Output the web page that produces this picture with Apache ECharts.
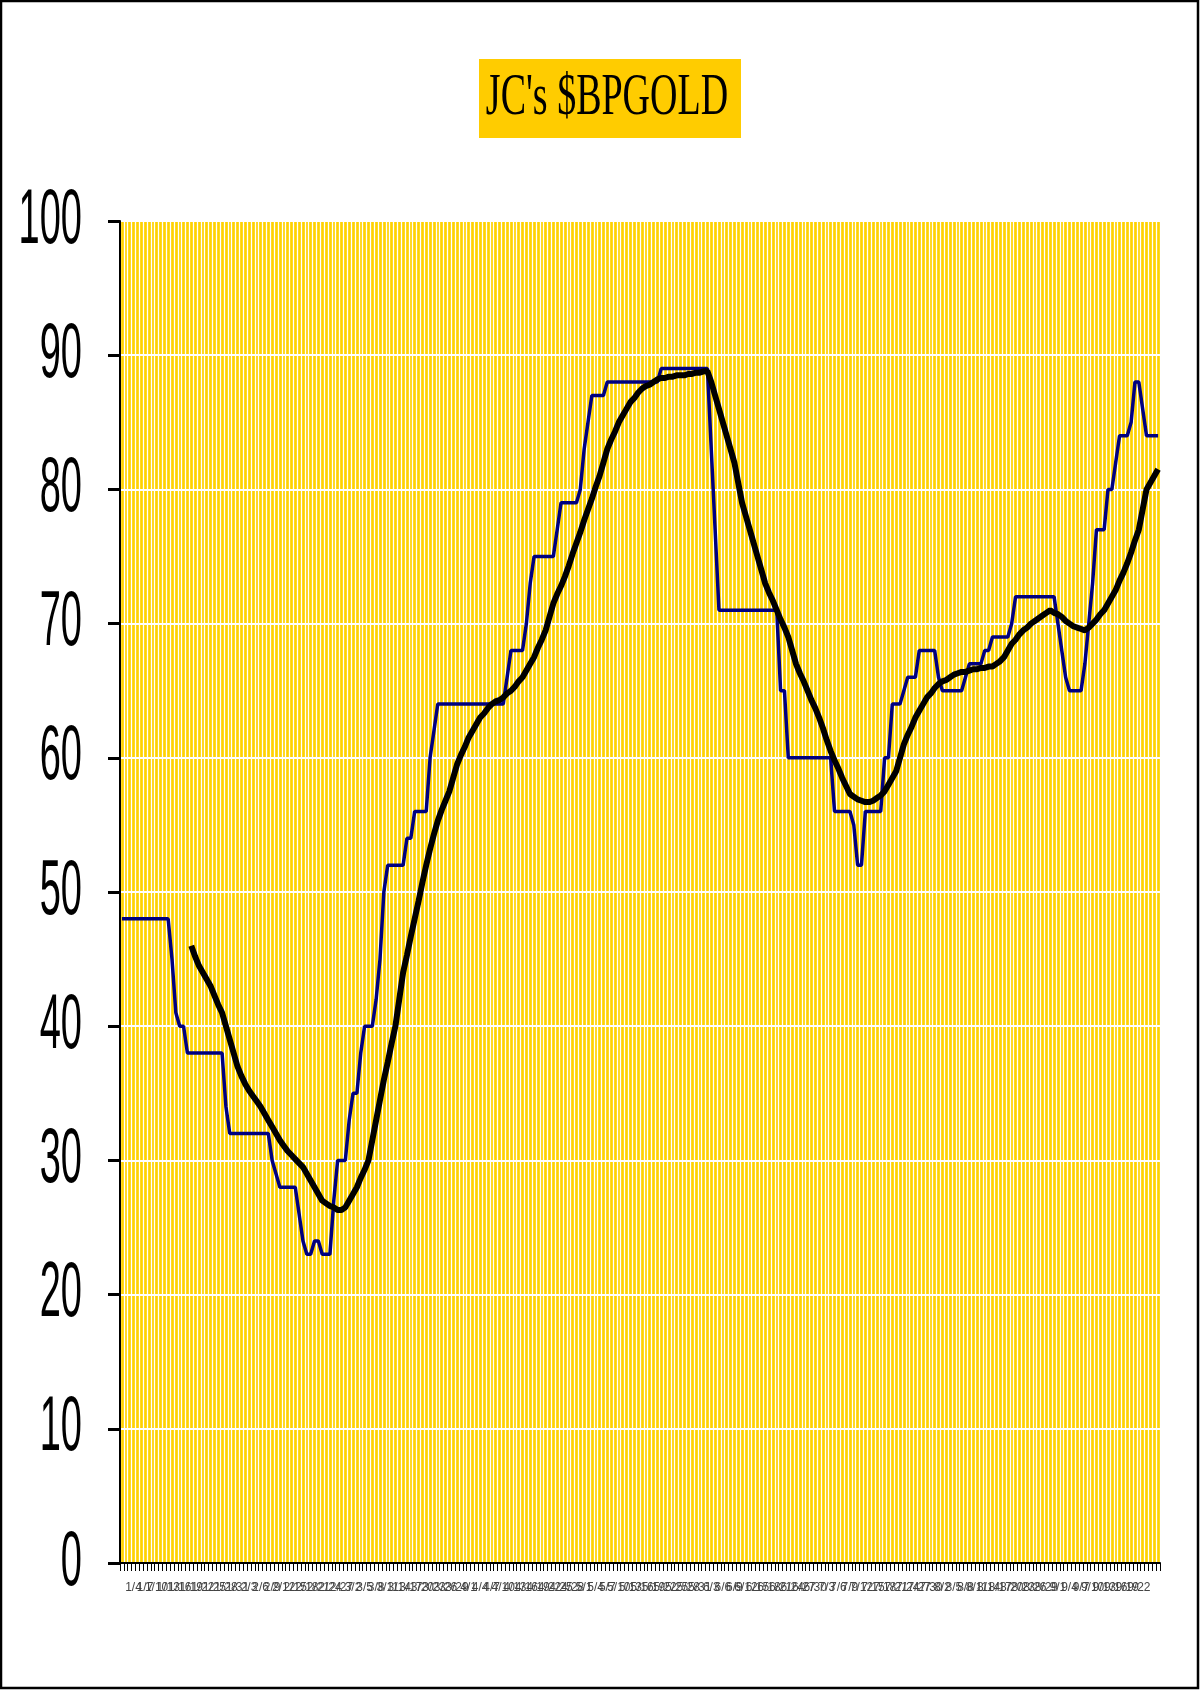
<!DOCTYPE html>
<html><head><meta charset="utf-8">
<script src="https://cdn.jsdelivr.net/npm/echarts@6/dist/echarts.min.js"></script>
<style>html,body{margin:0;padding:0;background:#fff}#c{width:1200px;height:1690px}</style>
</head><body><div id="c"></div>
<script>
const titleText = "JC's $BPGOLD";

// category labels: consecutive dates M/D
const categories = [];
for (let i = 0; i < 270; i++) {
  const d = new Date(2009, 0, 1 + i);
  categories.push((d.getMonth() + 1) + '/' + d.getDate());
}

const yMin = 0, yMax = 100, yStep = 10;
const yTickValues = [0, 10, 20, 30, 40, 50, 60, 70, 80, 90, 100];
const yTickLabels = ['0', '10', '20', '30', '40', '50', '60', '70', '80', '90', '100'];

// $BPGOLD bullish percent (blue step line)
const bpValues = [
  48,48,48,48,48,48,48,48,48,48,48,48,48,45,41,40,40,
  38,38,38,38,38,38,38,38,38,38,
  34,32,32,32,32,32,32,32,32,32,32,32,
  30,29,28,28,28,28,28,26,24,23,23,24,24,23,23,23,
  27,30,30,30,33,35,35,38,40,40,40,42,45,50,
  52,52,52,52,52,54,54,56,56,56,56,60,62,
  64,64,64,64,64,64,64,64,64,64,64,64,64,64,64,64,64,64,
  66,68,68,68,68,70,73,75,75,75,75,75,75,77,79,79,79,79,79,80,83,85,87,87,87,87,
  88,88,88,88,88,88,88,88,88,88,88,88,88,88,
  89,89,89,89,89,89,89,89,89,89,89,89,89,83,77,
  71,71,71,71,71,71,71,71,71,71,71,71,71,71,71,71,
  65,65,60,60,60,60,60,60,60,60,60,60,60,60,
  56,56,56,56,56,55,52,52,56,56,56,56,56,60,60,64,64,64,65,66,66,66,
  68,68,68,68,68,66,65,65,65,65,65,65,66,67,67,67,67,68,68,69,69,69,69,69,70,
  72,72,72,72,72,72,72,72,72,72,72,70,68,66,65,65,65,65,
  67,70,73,77,77,77,80,80,82,84,84,84,85,88,88,86,84,84,84,84
];

// moving average (black thick line)
const maValues = [
  null,null,null,null,null,null,null,null,null,null,null,null,null,null,null,null,null,null,
  46,45.2,44.5,44,43.5,43,42.3,41.6,41,40,39,38,37,36.3,35.7,35.2,34.8,34.4,34,33.5,33,32.5,
  32,31.5,31.1,30.7,30.4,30.1,29.8,29.5,29,28.5,28,27.5,27,26.8,26.6,26.5,26.3,26.3,26.5,27,
  27.5,28,28.7,29.3,30,31.5,33,34.5,36,37.3,38.7,40,42,44,45.3,46.7,48,49.3,50.7,52,
  53.2,54.3,55.3,56.1,56.8,57.5,58.5,59.5,60.2,60.8,61.5,62,62.5,63,63.3,63.7,64,64.2,64.3,64.5,
  64.8,65,65.3,65.7,66,66.5,67,67.5,68.2,68.8,69.5,70.5,71.5,72.2,72.8,73.5,74.3,75.2,76,76.8,
  77.7,78.5,79.3,80.2,81,82,83,83.7,84.3,85,85.5,86,86.5,86.8,87.2,87.5,87.7,87.8,88,88.2,
  88.3,88.3,88.4,88.4,88.5,88.5,88.5,88.6,88.6,88.7,88.7,88.8,88.8,88,87,86,85,84,83,82,
  80.5,79,78,77,76,75,74,73,72.3,71.7,71,70.3,69.7,69,68,67,66.3,65.7,65,64.3,
  63.7,63,62.2,61.3,60.5,59.8,59.2,58.5,57.9,57.3,57.1,56.9,56.8,56.7,56.7,56.8,57,57.2,57.5,58,
  58.5,59,60,61,61.7,62.3,63,63.5,64,64.5,64.8,65.2,65.5,65.7,65.8,66,66.2,66.3,66.4,66.4,
  66.5,66.6,66.6,66.7,66.7,66.8,66.8,67,67.2,67.5,68,68.5,68.8,69.2,69.5,69.7,70,70.2,70.4,70.6,
  70.8,71,70.8,70.7,70.5,70.2,70,69.8,69.7,69.6,69.5,69.7,70,70.3,70.7,71,71.5,72,72.5,73.2,
  73.8,74.5,75.3,76.2,77,78.5,80,80.5,81,81.5
];

const chart = echarts.init(document.getElementById('c'), null, {renderer: 'canvas'});
chart.setOption({
  animation: false,
  backgroundColor: '#ffffff',
  grid: {
    left: 120, right: 40, top: 221, bottom: 127,
    show: true, backgroundColor: '#FFD200', borderWidth: 0
  },
  graphic: [
    {id: 'frame', type: 'rect', shape: {x: 1, y: 1, width: 1197, height: 1687}, style: {fill: 'none', stroke: '#000', lineWidth: 2.5}, z: 100},
    {id: 'tbox', type: 'rect', shape: {x: 479, y: 59, width: 262, height: 79}, style: {fill: '#FFCC00'}, z: 10},
    {id: 'ttext', type: 'text', x: 607, y: 99, scaleY: 1.55, z: 11,
     style: {text: titleText, font: '38px "Liberation Serif"', fill: '#000', align: 'center', verticalAlign: 'middle'}}
  ],
  xAxis: {
    type: 'category',
    data: categories,
    boundaryGap: true,
    axisLine: {show: true, lineStyle: {color: '#000', width: 2}},
    axisTick: {show: true, interval: 0, length: 8, lineStyle: {color: '#000', width: 1}},
    axisLabel: {show: true, interval: 2, fontSize: 12, fontFamily: '"Liberation Sans"', color: '#444', margin: 19},
    splitLine: {show: true, interval: 0, lineStyle: {color: '#ffffff', width: 1.3}}
  },
  yAxis: {
    type: 'value',
    min: yMin, max: yMax, interval: yStep,
    axisLine: {show: true, lineStyle: {color: '#000', width: 2}},
    axisTick: {show: true, length: 12, lineStyle: {color: '#000', width: 3}},
    axisLabel: {show: false},
    splitLine: {show: true, lineStyle: {color: '#ffffff', width: 2}}
  },
  series: [
    {type: 'line', data: bpValues, showSymbol: false, symbol: 'none',
     lineStyle: {color: '#000080', width: 3.5}, z: 2},
    {type: 'line', data: maValues, showSymbol: false, symbol: 'none', connectNulls: false,
     lineStyle: {color: '#000000', width: 6}, z: 3}
  ]
});

// y tick labels, positioned through the value axis scale (tall condensed look)
const yLabelGraphics = yTickValues.map(function (v, k) {
  const py = chart.convertToPixel({yAxisIndex: 0}, v);
  return {
    id: 'ylab' + k, type: 'text', x: 82, y: py, scaleY: 2.06, z: 20,
    style: {text: yTickLabels[k], font: '38px "Liberation Sans"', fill: '#000', align: 'right', verticalAlign: 'middle'}
  };
});
chart.setOption({graphic: yLabelGraphics});
</script></body></html>
